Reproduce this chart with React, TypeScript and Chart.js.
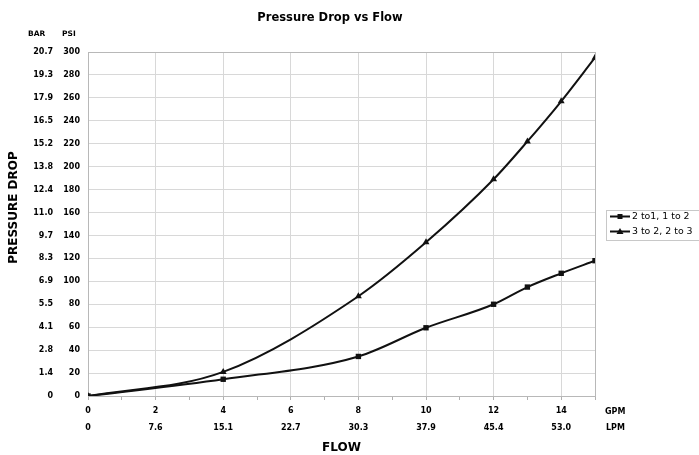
import React, { useEffect, useRef } from 'react';
import { Chart, registerables } from 'chart.js';

Chart.register(...registerables);

// ---- data ----
const gpmTicks = [0, 2, 4, 6, 8, 10, 12, 14];
const lpmLabels = ['0', '7.6', '15.1', '22.7', '30.3', '37.9', '45.4', '53.0'];
const minorFlowTicks = [0, 1, 2, 3, 4, 5, 6, 7, 8, 9, 10, 11, 12, 13, 14, 15];
const psiTicks = [0, 20, 40, 60, 80, 100, 120, 140, 160, 180, 200, 220, 240, 260, 280, 300];
const barLabels = ['0', '1.4', '2.8', '4.1', '5.5', '6.9', '8.3', '9.7', '11.0', '12.4', '13.8', '15.2', '16.5', '17.9', '19.3', '20.7'];

const seriesAName = '2 to1, 1 to 2';
const seriesAFlow = [0, 4, 8, 10, 12, 13, 14, 15];
const seriesAPsi = [0, 14.6, 34.5, 59.5, 80, 95, 107, 118];

const seriesBName = '3 to 2, 2 to 3';
const seriesBFlow = [0, 4, 8, 10, 12, 13, 14, 15];
const seriesBPsi = [0, 21, 87, 134, 189, 222, 257, 295];

const FONT = 'DejaVu Sans';

const extrasPlugin = {
  id: 'extras',
  afterDraw(chart: any) {
    const ctx = chart.ctx;
    ctx.save();
    ctx.fillStyle = '#000';
    // title
    ctx.font = `bold 11.5px "${FONT}"`;
    ctx.textAlign = 'center';
    ctx.textBaseline = 'middle';
    ctx.fillText('Pressure Drop vs Flow', 330, 18);
    // header BAR / PSI
    ctx.font = `bold 7.5px "${FONT}"`;
    ctx.textAlign = 'left';
    ctx.fillText('BAR', 28, 34);
    ctx.fillText('PSI', 62, 34);
    // unit labels at x axis
    ctx.font = `bold 8px "${FONT}"`;
    ctx.fillText('GPM', 605, 411.7);
    ctx.fillText('LPM', 606, 428.3);
    // y axis title
    ctx.save();
    ctx.translate(13.5, 207.5);
    ctx.rotate(-Math.PI / 2);
    ctx.textAlign = 'center';
    ctx.font = `bold 12px "${FONT}"`;
    ctx.fillText('PRESSURE DROP', 0, 0);
    ctx.restore();
    // legend
    ctx.fillStyle = '#fff';
    ctx.strokeStyle = '#c8c8c8';
    ctx.lineWidth = 1;
    ctx.fillRect(606.5, 210.5, 100, 30);
    ctx.strokeRect(606.5, 210.5, 100, 30);
    const rows = [216.5, 231.5];
    chart.data.datasets.forEach((ds: any, i: number) => {
      const y = rows[i];
      ctx.strokeStyle = ds.borderColor;
      ctx.lineWidth = 2;
      ctx.beginPath();
      ctx.moveTo(610, y);
      ctx.lineTo(630, y);
      ctx.stroke();
      ctx.fillStyle = ds.backgroundColor;
      if (ds.pointStyle === 'rect') {
        ctx.fillRect(617.5, y - 2.5, 5, 5);
      } else {
        ctx.beginPath();
        ctx.moveTo(620, y - 3.5);
        ctx.lineTo(623.5, y + 2.5);
        ctx.lineTo(616.5, y + 2.5);
        ctx.closePath();
        ctx.fill();
      }
      ctx.fillStyle = '#000';
      ctx.font = `9.4px "${FONT}"`;
      ctx.textAlign = 'left';
      ctx.textBaseline = 'middle';
      ctx.fillText(ds.label, 632, y);
    });
    ctx.restore();
  },
};

export default function App() {
  const ref = useRef<HTMLCanvasElement | null>(null);

  useEffect(() => {
    if (!ref.current) return;
    const tickFont = { family: FONT, size: 8, weight: 'bold' as const };
    const chart = new Chart(ref.current, {
      type: 'line',
      data: {
        datasets: [
          {
            label: seriesAName,
            data: seriesAFlow.map((x, i) => ({ x, y: seriesAPsi[i] })),
            borderColor: '#111',
            backgroundColor: '#111',
            borderWidth: 2,
            pointStyle: 'rect',
            pointRadius: 3.8,
            pointBorderWidth: 0,
            cubicInterpolationMode: 'monotone',
          },
          {
            label: seriesBName,
            data: seriesBFlow.map((x, i) => ({ x, y: seriesBPsi[i] })),
            borderColor: '#111',
            backgroundColor: '#111',
            borderWidth: 2,
            pointStyle: 'triangle',
            pointRadius: 4,
            pointBorderWidth: 0,
            cubicInterpolationMode: 'monotone',
          },
        ],
      },
      options: {
        animation: false,
        responsive: false,
        devicePixelRatio: 1,
        layout: { padding: { top: 52, right: 104, left: 0, bottom: 0 } },
        plugins: { legend: { display: false }, title: { display: false }, tooltip: { enabled: false } },
        scales: {
          x: {
            type: 'linear',
            position: 'bottom',
            min: 0,
            max: 15,
            afterBuildTicks: (s: any) => {
              s.ticks = minorFlowTicks.map((v) => ({ value: v }));
            },
            afterFit: (s: any) => {
              s.height = 59;
            },
            ticks: {
              autoSkip: false,
              maxRotation: 0,
              minRotation: 0,
              padding: 3,
              color: '#000',
              font: { ...tickFont, lineHeight: 2.075 },
              callback: (v: any) => {
                const i = gpmTicks.indexOf(Number(v));
                return i >= 0 ? [String(gpmTicks[i]), lpmLabels[i]] : '';
              },
            },
            grid: {
              color: (c: any) => {
                const v = c.tick ? c.tick.value : -1;
                if (v === 15) return '#b8b8b8';
                return gpmTicks.indexOf(v) >= 0 ? '#d8d8d8' : 'rgba(0,0,0,0)';
              },
              tickColor: '#b0b0b0',
              tickLength: 4,
              drawTicks: true,
            },
            border: { color: '#b8b8b8' },
            title: {
              display: true,
              text: 'FLOW',
              color: '#000',
              font: { family: FONT, size: 12, weight: 'bold' },
              padding: { top: 0, bottom: 0 },
            },
          },
          y: {
            type: 'linear',
            position: 'left',
            weight: 0,
            min: 0,
            max: 300,
            afterBuildTicks: (s: any) => {
              s.ticks = psiTicks.map((v) => ({ value: v }));
            },
            afterFit: (s: any) => {
              s.width = 32;
            },
            ticks: {
              padding: 8,
              color: '#000',
              font: tickFont,
              callback: (v: any) => String(v),
            },
            grid: {
              color: (c: any) => (c.tick && c.tick.value === 300 ? '#b8b8b8' : '#d8d8d8'),
              drawTicks: false,
            },
            border: { color: '#b8b8b8' },
          },
          y2: {
            type: 'linear',
            position: 'left',
            weight: 1,
            min: 0,
            max: 300,
            afterBuildTicks: (s: any) => {
              s.ticks = psiTicks.map((v) => ({ value: v }));
            },
            afterFit: (s: any) => {
              s.width = 56;
            },
            ticks: {
              padding: 3,
              color: '#000',
              font: tickFont,
              callback: (v: any) => barLabels[psiTicks.indexOf(Number(v))],
            },
            grid: { display: false, drawTicks: false },
            border: { display: false },
          },
        },
      },
      plugins: [extrasPlugin],
    } as any);
    return () => chart.destroy();
  }, []);

  return (
    <div style={{ position: 'fixed', left: 0, top: 0, width: 699, height: 455, background: '#fff' }}>
      <canvas ref={ref} width={699} height={455} />
    </div>
  );
}
